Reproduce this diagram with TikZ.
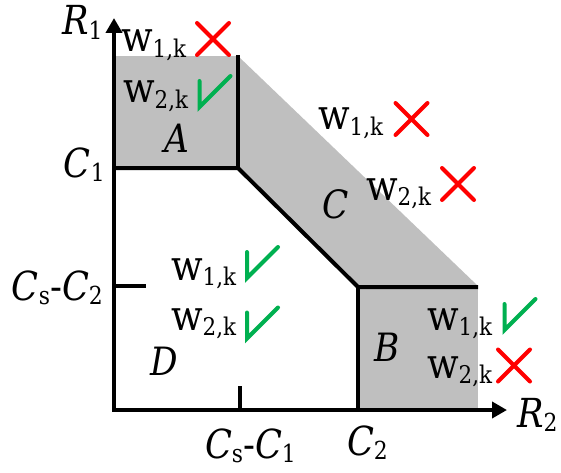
\documentclass[tikz,border=0pt]{standalone}
\usepackage{fontspec}
\setmainfont{DejaVu Serif}[FakeStretch=0.88]
\usepackage{graphicx}
\usetikzlibrary{arrows.meta}

\definecolor{okgreen}{RGB}{0,176,80}
\definecolor{nored}{RGB}{255,0,0}

\newcommand{\low}[2][0.62]{\raisebox{-0.12em}{\scalebox{#1}{#2}}}
\newcommand{\wk}[1]{w\low[0.58]{#1,k}}
\newcommand{\ax}[2]{\textit{#1}\low{#2}}

\tikzset{
  axlabel/.style={font=\fontsize{40}{44}\selectfont,anchor=base west,inner sep=0pt},
  region/.style={font=\fontsize{39}{44}\selectfont\itshape,anchor=base west,inner sep=0pt},
  wlabel/.style={font=\fontsize{42}{46}\selectfont,anchor=base west,inner sep=0pt},
  nomark/.style={nored,line width=4pt,line cap=round},
  okmark/.style={okgreen,line width=4pt,line cap=round}
}

\begin{document}
\begin{tikzpicture}[x=1pt,y=1pt,line width=4pt,>={Triangle[length=15pt,width=16pt]}]
  \useasboundingbox (-114,-62) rectangle (447,410);

  % shaded regions
  \fill[gray!50] (0,242) rectangle (124,354);
  \fill[gray!50] (124,354) -- (364,124) -- (244,124) -- (124,242) -- cycle;
  \fill[gray!50] (244,0) rectangle (364,124);

  % boundary
  \draw (0,242) -- (124,242) -- (244,123) -- (364,123);
  \draw (124,242) -- (124,355);
  \draw (244,123) -- (244,0);

  % axes and ticks
  \draw[<->] (0,392) -- (0,0) -- (393,0);
  \draw (0,124) -- (32,124);
  \draw (126,0) -- (126,24);

  \node[axlabel] (lR1) at (-54,375) {\ax{R}{1}};
  \node[axlabel] (lC1) at (-52,233) {\ax{C}{1}};
  \node[axlabel] (lCsC2) at (-104,110) {\ax{C}{s}-\ax{C}{2}};
  \node[axlabel] (lCsC1) at (89,-48) {\ax{C}{s}-\ax{C}{1}};
  \node[axlabel] (lC2) at (231,-45) {\ax{C}{2}};
  \node[axlabel] (lR2) at (401,-17) {\ax{R}{2}};

  \node[region] (rA) at (48,258) {A};
  \node[region] (rC) at (206,192) {C};
  \node[region] (rD) at (34,35) {D};
  \node[region] (rB) at (258,49) {B};

  \node[wlabel] (wA1) at (5,358) {\wk{1}};
  \node[wlabel] (wA2) at (7,307) {\wk{2}};
  \node[wlabel] (wC1) at (202,280) {\wk{1}};
  \node[wlabel] (wC2) at (250,210) {\wk{2}};
  \node[wlabel] (wD1) at (55,130) {\wk{1}};
  \node[wlabel] (wD2) at (55,80) {\wk{2}};
  \node[wlabel] (wB1) at (311,80) {\wk{1}};
  \node[wlabel] (wB2) at (311,32) {\wk{2}};

  % crosses and ticks
  \foreach \x/\y in {99/371,297.5/291,344/226,400/44.5}
    \draw[nomark] (\x,\y) +(-16,-16) -- +(16,16) +(-16,16) -- +(16,-16);
  \foreach \x/\y in {101/318.5,148.5/147.5,148.5/87,406/95.5}
    \draw[okmark] (\x,\y) +(-15.5,10.5) -- +(-15.5,-15.5) -- +(15.5,15.5);
\end{tikzpicture}
\end{document}
